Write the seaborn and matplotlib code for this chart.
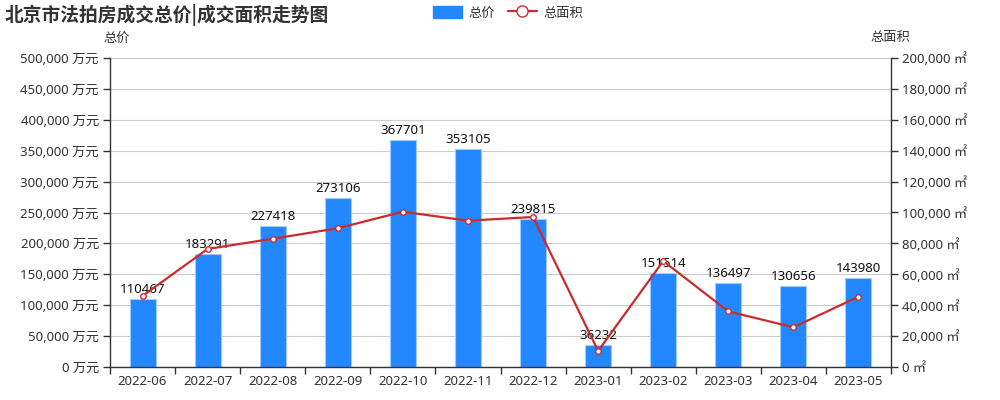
import numpy as np
import pandas as pd
import matplotlib
matplotlib.use("Agg")
import matplotlib.pyplot as plt
import seaborn as sns
from matplotlib.patches import Patch
from matplotlib.lines import Line2D
from matplotlib.ticker import FuncFormatter, MultipleLocator, FixedLocator

months = ["2022-06", "2022-07", "2022-08", "2022-09", "2022-10", "2022-11",
          "2022-12", "2023-01", "2023-02", "2023-03", "2023-04", "2023-05"]
total_price = [110467, 183291, 227418, 273106, 367701, 353105,
               239815, 36232, 151514, 136497, 130656, 143980]
total_area = [46000, 76400, 83000, 89800, 100500, 94700,
              97100, 10400, 68600, 36000, 25700, 45500]

sns.set_theme(style="white")
plt.rcParams['font.family'] = ['Noto Sans', 'Noto Sans CJK SC', 'DejaVu Sans']

df = pd.DataFrame({"month": months, "price": total_price, "area": total_area})
df["pos"] = np.arange(len(months))

fig = plt.figure(figsize=(10, 4), dpi=100)
ax = fig.add_axes([0.11, 0.0825, 0.781, 0.7725])

bar_color = "#2388ff"
line_color = "#cc2b2b"
txt = "#333333"

sns.barplot(data=df, x="month", y="price", color=bar_color, width=0.4,
            saturation=1, ax=ax, edgecolor="#9fcbff", linewidth=0.8)
ax.set_ylim(0, 500000)
ax.set_xlim(-0.5, len(months) - 0.5)
ax.yaxis.set_major_locator(MultipleLocator(50000))
ax.yaxis.set_major_formatter(FuncFormatter(lambda v, p: f"{int(v):,} 万元"))
ax.grid(axis="y", color="#cccccc", linewidth=0.8)
ax.set_axisbelow(True)
ax.set_xlabel("")
ax.set_ylabel("")

for i, v in enumerate(total_price):
    ax.text(i, v + 5000, str(v), ha="center", va="bottom", fontsize=9.5, color="#111111")

ax2 = ax.twinx()
sns.lineplot(data=df, x="pos", y="area", ax=ax2, color=line_color, linewidth=1.6,
             marker="o", markersize=4, markerfacecolor="white",
             markeredgecolor=line_color, markeredgewidth=1.0)
ax2.set_ylim(0, 200000)
ax2.set_xlim(-0.5, len(months) - 0.5)
ax2.yaxis.set_major_locator(MultipleLocator(20000))
ax2.yaxis.set_major_formatter(FuncFormatter(lambda v, p: f"{int(v):,} ㎡"))
ax2.set_ylabel("")
ax2.set_xlabel("")
ax2.grid(False)

for a in (ax, ax2):
    a.spines["top"].set_visible(False)
    for s in ("left", "right", "bottom"):
        a.spines[s].set_color("#333333")
        a.spines[s].set_linewidth(1)
ax.spines["right"].set_visible(False)
ax2.spines["left"].set_visible(False)
ax2.spines["bottom"].set_visible(False)

ax.tick_params(axis="y", left=True, length=5, width=1, color="#333333",
               labelsize=9.5, labelcolor=txt, pad=3)
ax2.tick_params(axis="y", right=True, length=5, width=1, color="#333333",
                labelsize=9.5, labelcolor=txt, pad=3)
ax.tick_params(axis="x", which="major", length=0, labelsize=9.5, labelcolor=txt, pad=6)
ax.xaxis.set_minor_locator(FixedLocator(np.arange(-0.5, len(months), 1.0)))
ax.tick_params(axis="x", which="minor", bottom=True, length=5, width=1, color="#333333")

fig.text(0.005, 0.962, "北京市法拍房成交总价|成交面积走势图", fontsize=13.5,
         fontweight="bold", color="#333333", ha="left", va="center",
         family=['Noto Sans CJK SC', 'DejaVu Sans'])
fig.text(0.117, 0.905, "总价", fontsize=9.5, color=txt, ha="center", va="center")
fig.text(0.890, 0.905, "总面积", fontsize=9.5, color=txt, ha="center", va="center")

handles = [Patch(facecolor=bar_color, edgecolor=bar_color),
           Line2D([0], [0], color=line_color, linewidth=1.6, marker="o",
                  markersize=8, markerfacecolor="white", markeredgecolor=line_color)]
leg = fig.legend(handles, ["总价", "总面积"], loc="center", bbox_to_anchor=(0.508, 0.968),
                 ncol=2, frameon=False, fontsize=9.5, handlelength=2.2, handleheight=1.0,
                 columnspacing=1.0, handletextpad=0.5)
for t in leg.get_texts():
    t.set_color(txt)

fig.savefig("out.png", dpi=100)
